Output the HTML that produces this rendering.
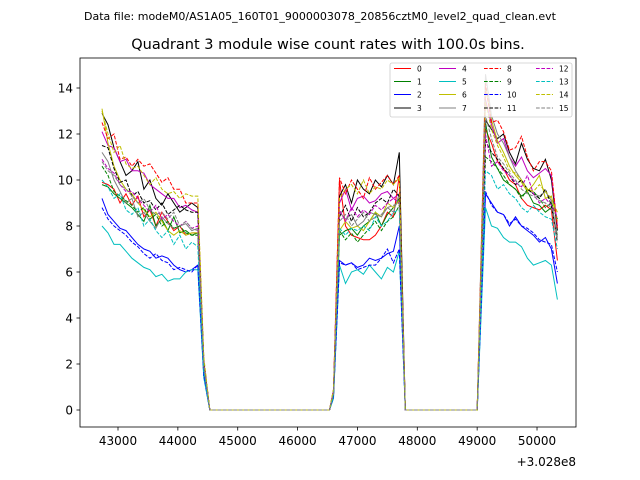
<!DOCTYPE html>
<html><head><meta charset="utf-8"><style>
body{margin:0;background:#fff;}
svg{display:block;font-family:"DejaVu Sans","Liberation Sans",sans-serif;}
</style></head><body>
<svg id="chart" width="640" height="480" viewBox="0 0 640 480">
<text x="320" y="20" font-size="11" text-anchor="middle">Data file: modeM0/AS1A05_160T01_9000003078_20856cztM0_level2_quad_clean.evt</text>
<text x="328" y="49" font-size="14.5" text-anchor="middle">Quadrant 3 module wise count rates with 100.0s bins.</text>
<g id="plot"></g>
<rect x="80" y="58" width="496" height="369" fill="none" stroke="#000" stroke-width="0.8"/>
<g id="axes"></g>
<text x="576" y="466" font-size="12" text-anchor="end">+3.028e8</text>
<g id="legend"></g>
</svg>
<script>
const seg1Start = 42733, seg2Start = 46700, seg3Start = 49140;
const xTicks = [43000,44000,45000,46000,47000,48000,49000,50000];
const yTicks = [0,2,4,6,8,10,12,14];
const seriesNames = ["0","1","2","3","4","5","6","7","8","9","10","11","12","13","14","15"];
const seg1 = [
[9.9,9.8,9.6,9.0,9.4,8.9,9.3,8.4,8.7,8.0,8.6,8.2,7.8,8.0,7.6,7.7,7.7],
[9.8,9.7,9.4,9.2,9.0,8.8,8.5,8.2,8.9,8.0,8.3,7.8,8.4,7.7,7.8,7.6,7.7],
[9.2,8.5,8.2,7.9,7.8,7.5,7.2,7.0,6.9,6.6,6.7,6.6,6.3,6.1,6.0,6.1,6.3],
[12.9,12.4,11.4,10.8,10.2,10.4,10.8,9.6,10.0,9.2,8.9,9.4,9.0,8.6,8.8,9.0,8.8],
[12.1,11.5,11.4,10.8,10.9,10.4,10.4,10.3,9.8,9.6,9.4,9.2,9.2,8.8,8.9,8.7,8.6],
[8.0,7.7,7.2,7.2,6.9,6.6,6.4,6.2,6.1,5.8,5.9,5.6,5.7,5.7,6.0,6.1,6.1],
[13.1,11.6,10.6,10.0,9.6,9.4,9.0,8.7,8.4,8.6,8.2,7.8,7.6,7.8,7.6,7.7,7.7],
[11.2,10.8,10.0,9.5,9.0,9.2,8.4,8.6,8.2,7.9,8.4,8.1,7.9,8.0,8.1,7.8,7.9],
[12.5,11.8,12.0,10.9,11.0,10.6,10.9,10.6,10.7,10.3,9.9,10.1,9.6,9.6,9.0,9.0,9.0],
[10.6,10.2,9.5,9.3,9.1,8.9,8.6,8.8,8.3,8.5,8.0,8.2,7.9,8.0,7.7,7.6,7.6],
[8.8,8.3,8.0,7.8,7.6,7.3,7.1,6.8,6.6,6.8,6.5,6.4,6.1,6.2,6.1,6.0,6.3],
[11.5,11.4,10.5,9.9,10.0,9.3,9.5,9.0,9.1,8.7,9.0,8.5,8.7,8.9,8.7,8.6,8.6],
[10.9,10.5,10.3,9.8,9.5,9.5,9.2,8.9,8.6,8.9,8.3,8.5,8.2,8.0,8.2,7.9,8.0],
[10.0,9.7,9.2,9.4,8.7,8.5,8.8,8.0,8.3,7.8,7.5,7.8,7.2,7.6,7.0,7.3,7.1],
[13.0,12.0,11.2,11.5,10.7,10.5,10.6,10.2,9.8,10.1,9.6,9.4,9.5,9.2,9.4,9.3,9.3],
[10.8,10.4,10.2,9.8,9.6,9.3,9.0,9.2,8.7,8.5,8.6,8.3,8.6,8.0,8.2,7.9,7.8]];
const seg1Tail = [1.8,1.9,1.5,2.1,2.0,1.4,1.9,1.9,2.2,1.9,1.5,2.1,2.0,1.7,2.3,1.9];
const seg2Lead = [0.8,0.7,0.6,0.8,0.8,0.5,0.7,0.7,0.9,0.7,0.6,0.8,0.8,0.7,0.9,0.7];
const seg2 = [
[10.0,8.0,7.6,7.5,7.4,7.4,7.6,8.0,8.6,8.4,10.2],
[7.6,7.8,7.9,7.6,8.0,8.2,8.6,8.0,8.5,8.8,9.2],
[6.5,6.3,6.4,6.2,6.3,6.6,6.5,6.6,6.8,6.9,8.0],
[9.3,9.8,9.0,10.0,9.6,9.4,10.0,9.7,10.2,9.8,11.2],
[9.0,9.6,8.7,9.2,9.3,9.0,9.1,9.4,9.5,9.2,9.4],
[6.3,5.5,6.0,6.1,5.9,6.3,6.0,5.7,6.2,6.0,6.9],
[7.8,8.2,7.9,8.0,7.8,8.2,8.6,8.4,9.0,8.8,9.1],
[8.6,8.3,8.5,8.0,8.2,8.6,8.5,8.4,8.8,8.6,9.4],
[10.1,9.4,10.0,9.6,9.2,10.1,9.6,9.9,10.2,9.8,10.2],
[7.8,7.4,7.7,7.3,7.6,7.9,8.2,7.8,8.2,8.4,8.9],
[6.4,6.3,6.4,6.1,6.2,6.3,6.3,6.6,7.0,6.4,7.0],
[8.4,8.9,8.2,8.8,8.4,8.6,9.0,9.2,9.0,9.6,9.3],
[8.7,8.2,8.8,8.4,8.7,8.5,8.9,8.7,9.0,9.2,9.0],
[7.9,7.6,7.9,7.8,8.0,7.8,8.4,8.0,8.2,8.6,8.7],
[9.2,9.6,9.8,9.4,10.0,9.4,9.7,9.6,10.0,9.8,10.1],
[8.2,8.5,8.0,8.3,8.6,8.2,8.4,8.5,8.8,8.9,9.0]];
const seg3 = [
[12.2,11.6,10.8,10.5,10.0,9.8,9.2,8.9,8.8,8.7,8.9,8.7,6.5],
[12.5,11.0,10.5,10.0,9.8,9.6,9.3,9.5,9.0,8.9,8.6,8.8,7.6],
[9.4,9.0,8.6,8.5,8.0,8.4,8.0,7.8,7.6,7.3,7.5,7.0,5.5],
[12.6,12.2,11.8,12.0,11.2,10.7,11.6,10.9,10.5,10.4,10.9,10.0,7.8],
[13.5,12.4,11.6,11.8,11.0,10.6,11.0,10.4,10.1,10.3,10.5,10.2,8.0],
[8.8,8.0,7.9,7.5,7.3,7.3,7.1,6.6,6.3,6.4,6.5,6.3,4.8],
[14.0,12.6,11.7,11.2,10.6,10.2,9.9,9.5,9.8,10.2,9.2,9.3,8.2],
[14.6,12.8,12.0,11.6,11.0,10.4,10.0,9.6,9.4,9.3,9.5,9.1,7.5],
[14.2,12.5,12.6,12.1,11.3,11.4,11.9,11.0,10.4,10.8,10.8,10.4,7.9],
[11.0,10.8,10.5,10.2,9.8,9.6,9.2,9.6,9.5,9.2,8.8,9.0,8.3],
[9.5,8.9,8.6,8.5,8.1,8.3,8.0,7.9,7.7,7.4,7.3,7.2,6.0],
[11.7,11.2,10.9,10.5,10.2,9.8,10.0,9.6,9.4,9.2,9.6,8.9,7.3],
[12.0,10.6,10.8,10.4,10.2,9.9,9.7,10.2,9.4,9.0,9.2,8.9,8.4],
[10.4,10.2,9.6,9.8,9.4,9.2,8.8,8.6,8.9,8.6,8.4,8.3,7.0],
[13.4,12.2,11.5,11.0,10.4,10.3,10.0,9.6,9.5,9.8,9.5,9.2,8.6],
[12.8,11.8,11.0,10.7,10.3,10.0,9.6,9.4,9.3,9.1,9.0,8.8,7.4]];

const colors = ["#ff0000","#008000","#0000ff","#000000","#bf00bf","#00bfbf","#bfbf00","#808080"];
const xPx = v => 118 + (v - 43000) * 0.05986;
const yPx = v => 410 - 23 * v;
const NS = "http://www.w3.org/2000/svg";
const mk = (t, a) => { const e = document.createElementNS(NS, t); for (const k in a) e.setAttribute(k, a[k]); return e; };
const plot = document.getElementById("plot");
const axes = document.getElementById("axes");

for (let s = 0; s < 16; s++) {
  const pts = [];
  seg1[s].forEach((v, i) => pts.push([seg1Start + 100 * i, v]));
  let t = seg1Start + 100 * seg1[s].length;
  pts.push([t, seg1Tail[s]]); t += 100;
  while (t < seg2Start - 150) { pts.push([t, 0]); t += 100; }
  pts.push([seg2Start - 100, seg2Lead[s]]);
  seg2[s].forEach((v, i) => pts.push([seg2Start + 100 * i, v]));
  t = seg2Start + 100 * seg2[s].length;
  while (t <= seg3Start - 140) { pts.push([t, 0]); t += 100; }
  seg3[s].forEach((v, i) => pts.push([seg3Start + 100 * i, v]));
  const d = pts.map((p, i) => (i ? "L" : "M") + xPx(p[0]).toFixed(1) + "," + yPx(p[1]).toFixed(1)).join("");
  const path = mk("path", {d: d, fill: "none", stroke: colors[s % 8], "stroke-width": 1});
  if (s >= 8) path.setAttribute("stroke-dasharray", "3.7,1.6");
  
  
  plot.appendChild(path);
}

xTicks.forEach(v => {
  const x = xPx(v);
  const tk = mk("line", {x1: x, x2: x, y1: 427, y2: 430.5, stroke: "#000", "stroke-width": 0.8});
  
  
  axes.appendChild(tk);
  const lb = mk("text", {x: x, y: 445, "font-size": 12, "text-anchor": "middle"});
  lb.textContent = v;
  
  
  axes.appendChild(lb);
});
yTicks.forEach(v => {
  const y = yPx(v);
  const tk = mk("line", {x1: 76.5, x2: 80, y1: y, y2: y, stroke: "#000", "stroke-width": 0.8});
  
  
  axes.appendChild(tk);
  const lb = mk("text", {x: 73, y: y + 4.5, "font-size": 12, "text-anchor": "end"});
  lb.textContent = v;
  
  
  axes.appendChild(lb);
});

const lg = document.getElementById("legend");
const box = mk("rect", {x: 390, y: 63, width: 182, height: 54, rx: 2, fill: "#fff", "fill-opacity": 0.8, stroke: "#ccc", "stroke-width": 0.8});


lg.appendChild(box);
const colX = [394, 439, 484, 536], rowY = [68.5, 81.5, 94.5, 108];
for (let s = 0; s < 16; s++) {
  const c = Math.floor(s / 4), r = s % 4;
  const g = mk("g", {});
  
  
  const ln = mk("line", {x1: colX[c], x2: colX[c] + 17, y1: rowY[r], y2: rowY[r], stroke: colors[s % 8], "stroke-width": 1});
  if (s >= 8) ln.setAttribute("stroke-dasharray", "3.7,1.6");
  g.appendChild(ln);
  const tx = mk("text", {x: colX[c] + 23, y: rowY[r] + 3, "font-size": 7.5});
  tx.textContent = seriesNames[s];
  g.appendChild(tx);
  lg.appendChild(g);
}
</script>
</body></html>
